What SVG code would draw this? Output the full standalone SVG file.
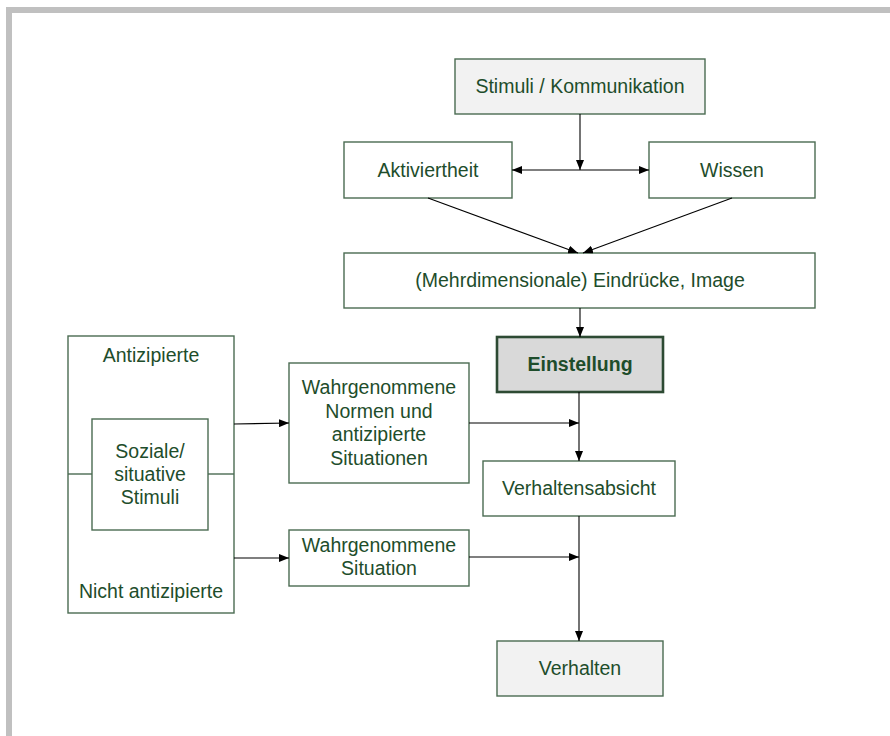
<svg xmlns="http://www.w3.org/2000/svg" width="890" height="736" viewBox="0 0 890 736">
<defs>
<marker id="ah" viewBox="0 0 10 8" refX="10" refY="4" markerWidth="10" markerHeight="8" markerUnits="userSpaceOnUse" orient="auto-start-reverse">
<path d="M0,0 L10,4 L0,8 Z" fill="#000"/>
</marker>
<style>
.box{fill:#fff;stroke:#4a6b52;stroke-width:1.4}
.grey{fill:#f2f2f2}
.key{fill:#d9d9d9;stroke:#2d4a33;stroke-width:2.6}
.t{font-family:"Liberation Sans",Arial,sans-serif;font-size:19.5px;fill:#1e4d2b;text-anchor:middle}
.b{font-weight:bold}
.c{stroke:#000;stroke-width:1.1;fill:none}
.ca{stroke:#000;stroke-width:1.1;fill:none;marker-end:url(#ah)}
.g{stroke:#4a6b52;stroke-width:1.4;fill:none}
</style>
</defs>
<rect width="890" height="736" fill="#fff"/>
<rect x="6" y="7" width="884" height="6" fill="#c0c0c0"/>
<rect x="6" y="7" width="6" height="729" fill="#c0c0c0"/>

<g id="stimuli"><rect class="box grey" x="455" y="59" width="250" height="55"/><text class="t" x="580" y="93">Stimuli / Kommunikation</text></g>
<g id="aktiviertheit"><rect class="box" x="344" y="142" width="168" height="56"/><text class="t" x="428" y="177">Aktiviertheit</text></g>
<g id="wissen"><rect class="box" x="649" y="142" width="166" height="56"/><text class="t" x="732" y="177">Wissen</text></g>
<g id="eindruecke"><rect class="box" x="344" y="253" width="471" height="55"/><text class="t" x="580" y="287">(Mehrdimensionale) Eindrücke, Image</text></g>
<g id="einstellung"><rect class="key" x="497" y="337" width="166" height="55"/><text class="t b" x="580" y="371">Einstellung</text></g>
<g id="stimuli-sozial">
<rect class="box" x="68" y="336" width="166" height="277"/>
<text class="t" x="151" y="362">Antizipierte</text>
<text class="t" x="151" y="598">Nicht antizipierte</text>
<line class="g" x1="68" y1="474" x2="92" y2="474"/>
<line class="g" x1="208" y1="474" x2="234" y2="474"/>
<rect class="box" x="92" y="419" width="116" height="111"/>
<text class="t" x="150" y="458">Soziale/</text>
<text class="t" x="150" y="481">situative</text>
<text class="t" x="150" y="504">Stimuli</text>
</g>
<g id="normen"><rect class="box" x="289" y="363" width="180" height="120"/>
<text class="t" x="379" y="394">Wahrgenommene</text>
<text class="t" x="379" y="418">Normen und</text>
<text class="t" x="379" y="441">antizipierte</text>
<text class="t" x="379" y="465">Situationen</text></g>
<g id="situation"><rect class="box" x="289" y="530" width="180" height="56"/>
<text class="t" x="379" y="552">Wahrgenommene</text>
<text class="t" x="379" y="575">Situation</text></g>
<g id="verhaltensabsicht"><rect class="box" x="483" y="461" width="192" height="55"/><text class="t" x="579" y="495">Verhaltensabsicht</text></g>
<g id="verhalten"><rect class="box grey" x="497" y="641" width="166" height="55"/><text class="t" x="580" y="675">Verhalten</text></g>

<g id="connectors">
<line class="ca" x1="580" y1="114" x2="580" y2="170"/>
<line class="c" x1="512" y1="170" x2="649" y2="170" marker-start="url(#ah)" marker-end="url(#ah)"/>
<line class="ca" x1="428" y1="198" x2="578" y2="253"/>
<line class="ca" x1="732" y1="198" x2="583" y2="253"/>
<line class="ca" x1="580" y1="308" x2="580" y2="337"/>
<line class="ca" x1="579" y1="392" x2="579" y2="461"/>
<line class="ca" x1="469" y1="423" x2="579" y2="423"/>
<line class="ca" x1="234" y1="424" x2="289" y2="423"/>
<line class="ca" x1="234" y1="558" x2="289" y2="558"/>
<line class="ca" x1="579" y1="516" x2="579" y2="641"/>
<line class="ca" x1="469" y1="557" x2="579" y2="557"/>
</g>
</svg>
